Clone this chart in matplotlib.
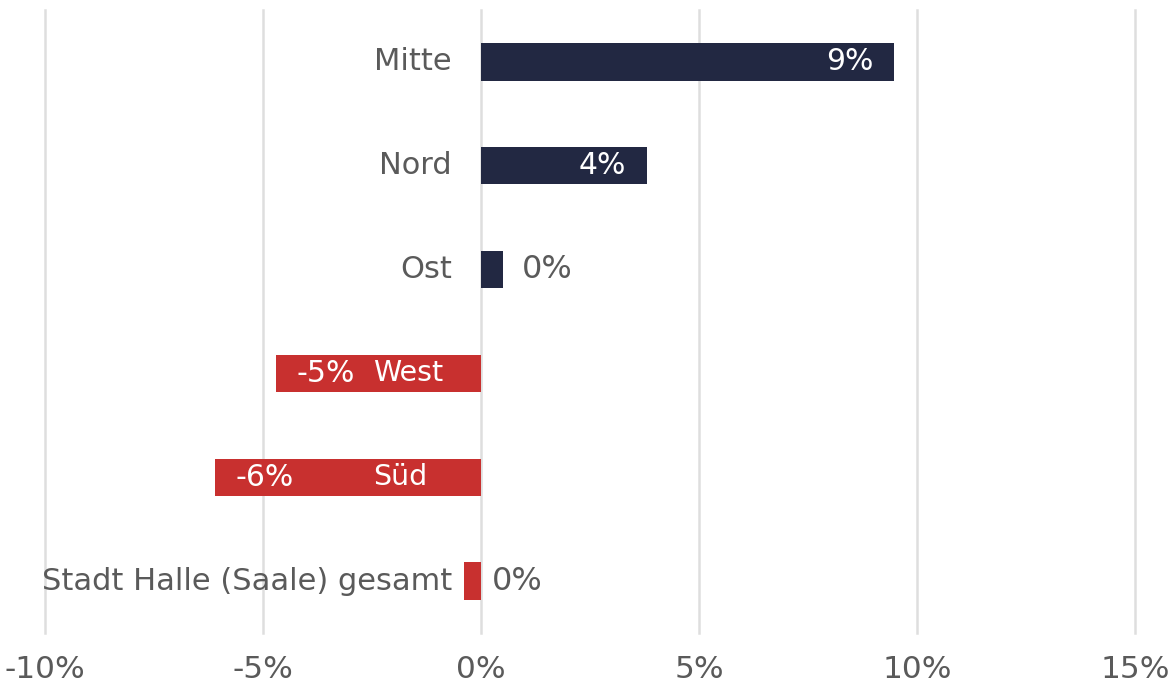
import matplotlib
matplotlib.use("Agg")
import matplotlib.pyplot as plt
import numpy as np

categories = ["Mitte", "Nord", "Ost", "West", "Süd", "Stadt Halle (Saale) gesamt"]
values = [9.48, 3.8, 0.5, -4.7, -6.1, -0.4]
bar_colors = ["#222842", "#222842", "#222842", "#C8302F", "#C8302F", "#C8302F"]
xticks = [-10, -5, 0, 5, 10, 15]
xtick_labels = ["-10%", "-5%", "0%", "5%", "10%", "15%"]

plt.rcParams['font.family'] = ['DejaVu Sans']
GRAY = "#5A5A5A"

fig = plt.figure(figsize=(11.72, 6.9), dpi=100)
ax = fig.add_axes([45/1172, 57/690, 1090/1172, 623/690])

y = np.arange(len(categories))
ax.barh(y, values, height=0.36, color=bar_colors, zorder=3)
ax.set_ylim(len(categories) - 0.5, -0.5)
ax.set_xlim(-10, 15)
ax.set_xticks(xticks)
ax.set_xticklabels(xtick_labels, fontsize=22.5, color=GRAY)
ax.set_yticks([])
ax.tick_params(axis='x', length=0, pad=16)
for s in ax.spines.values():
    s.set_visible(False)
ax.grid(axis='x', color="#DEDEDE", linewidth=1.8, zorder=0)
for gl in ax.get_xgridlines():
    gl.set_clip_on(False)

for i, (cat, v) in enumerate(zip(categories, values)):
    # value labels
    lab = f"{round(v)}%"
    if abs(v) >= 1:
        if v > 0:
            ax.annotate(lab, (v, i), xytext=(-15, 0), textcoords='offset points',
                        ha='right', va='center', color='white', fontsize=21.5,
                        zorder=4)
        else:
            ax.annotate(lab, (v, i), xytext=(15, 0), textcoords='offset points',
                        ha='left', va='center', color='white', fontsize=21.5,
                        zorder=4)
    else:
        off = 14 if v > 0 else 8
        ax.annotate(lab, (max(v, 0), i), xytext=(off, 0), textcoords='offset points',
                    ha='left', va='center', color=GRAY, fontsize=23, zorder=4)
    # category labels
    if v < -1:
        ax.annotate(cat, (0, i), xytext=(-78, 0), textcoords='offset points',
                    ha='left', va='center', color='white', fontsize=20.5, zorder=4)
    else:
        ax.annotate(cat, (0, i), xytext=(-21, 0), textcoords='offset points',
                    ha='right', va='center', color=GRAY, fontsize=22, zorder=4)

fig.savefig("out.png", dpi=100, facecolor="white")
